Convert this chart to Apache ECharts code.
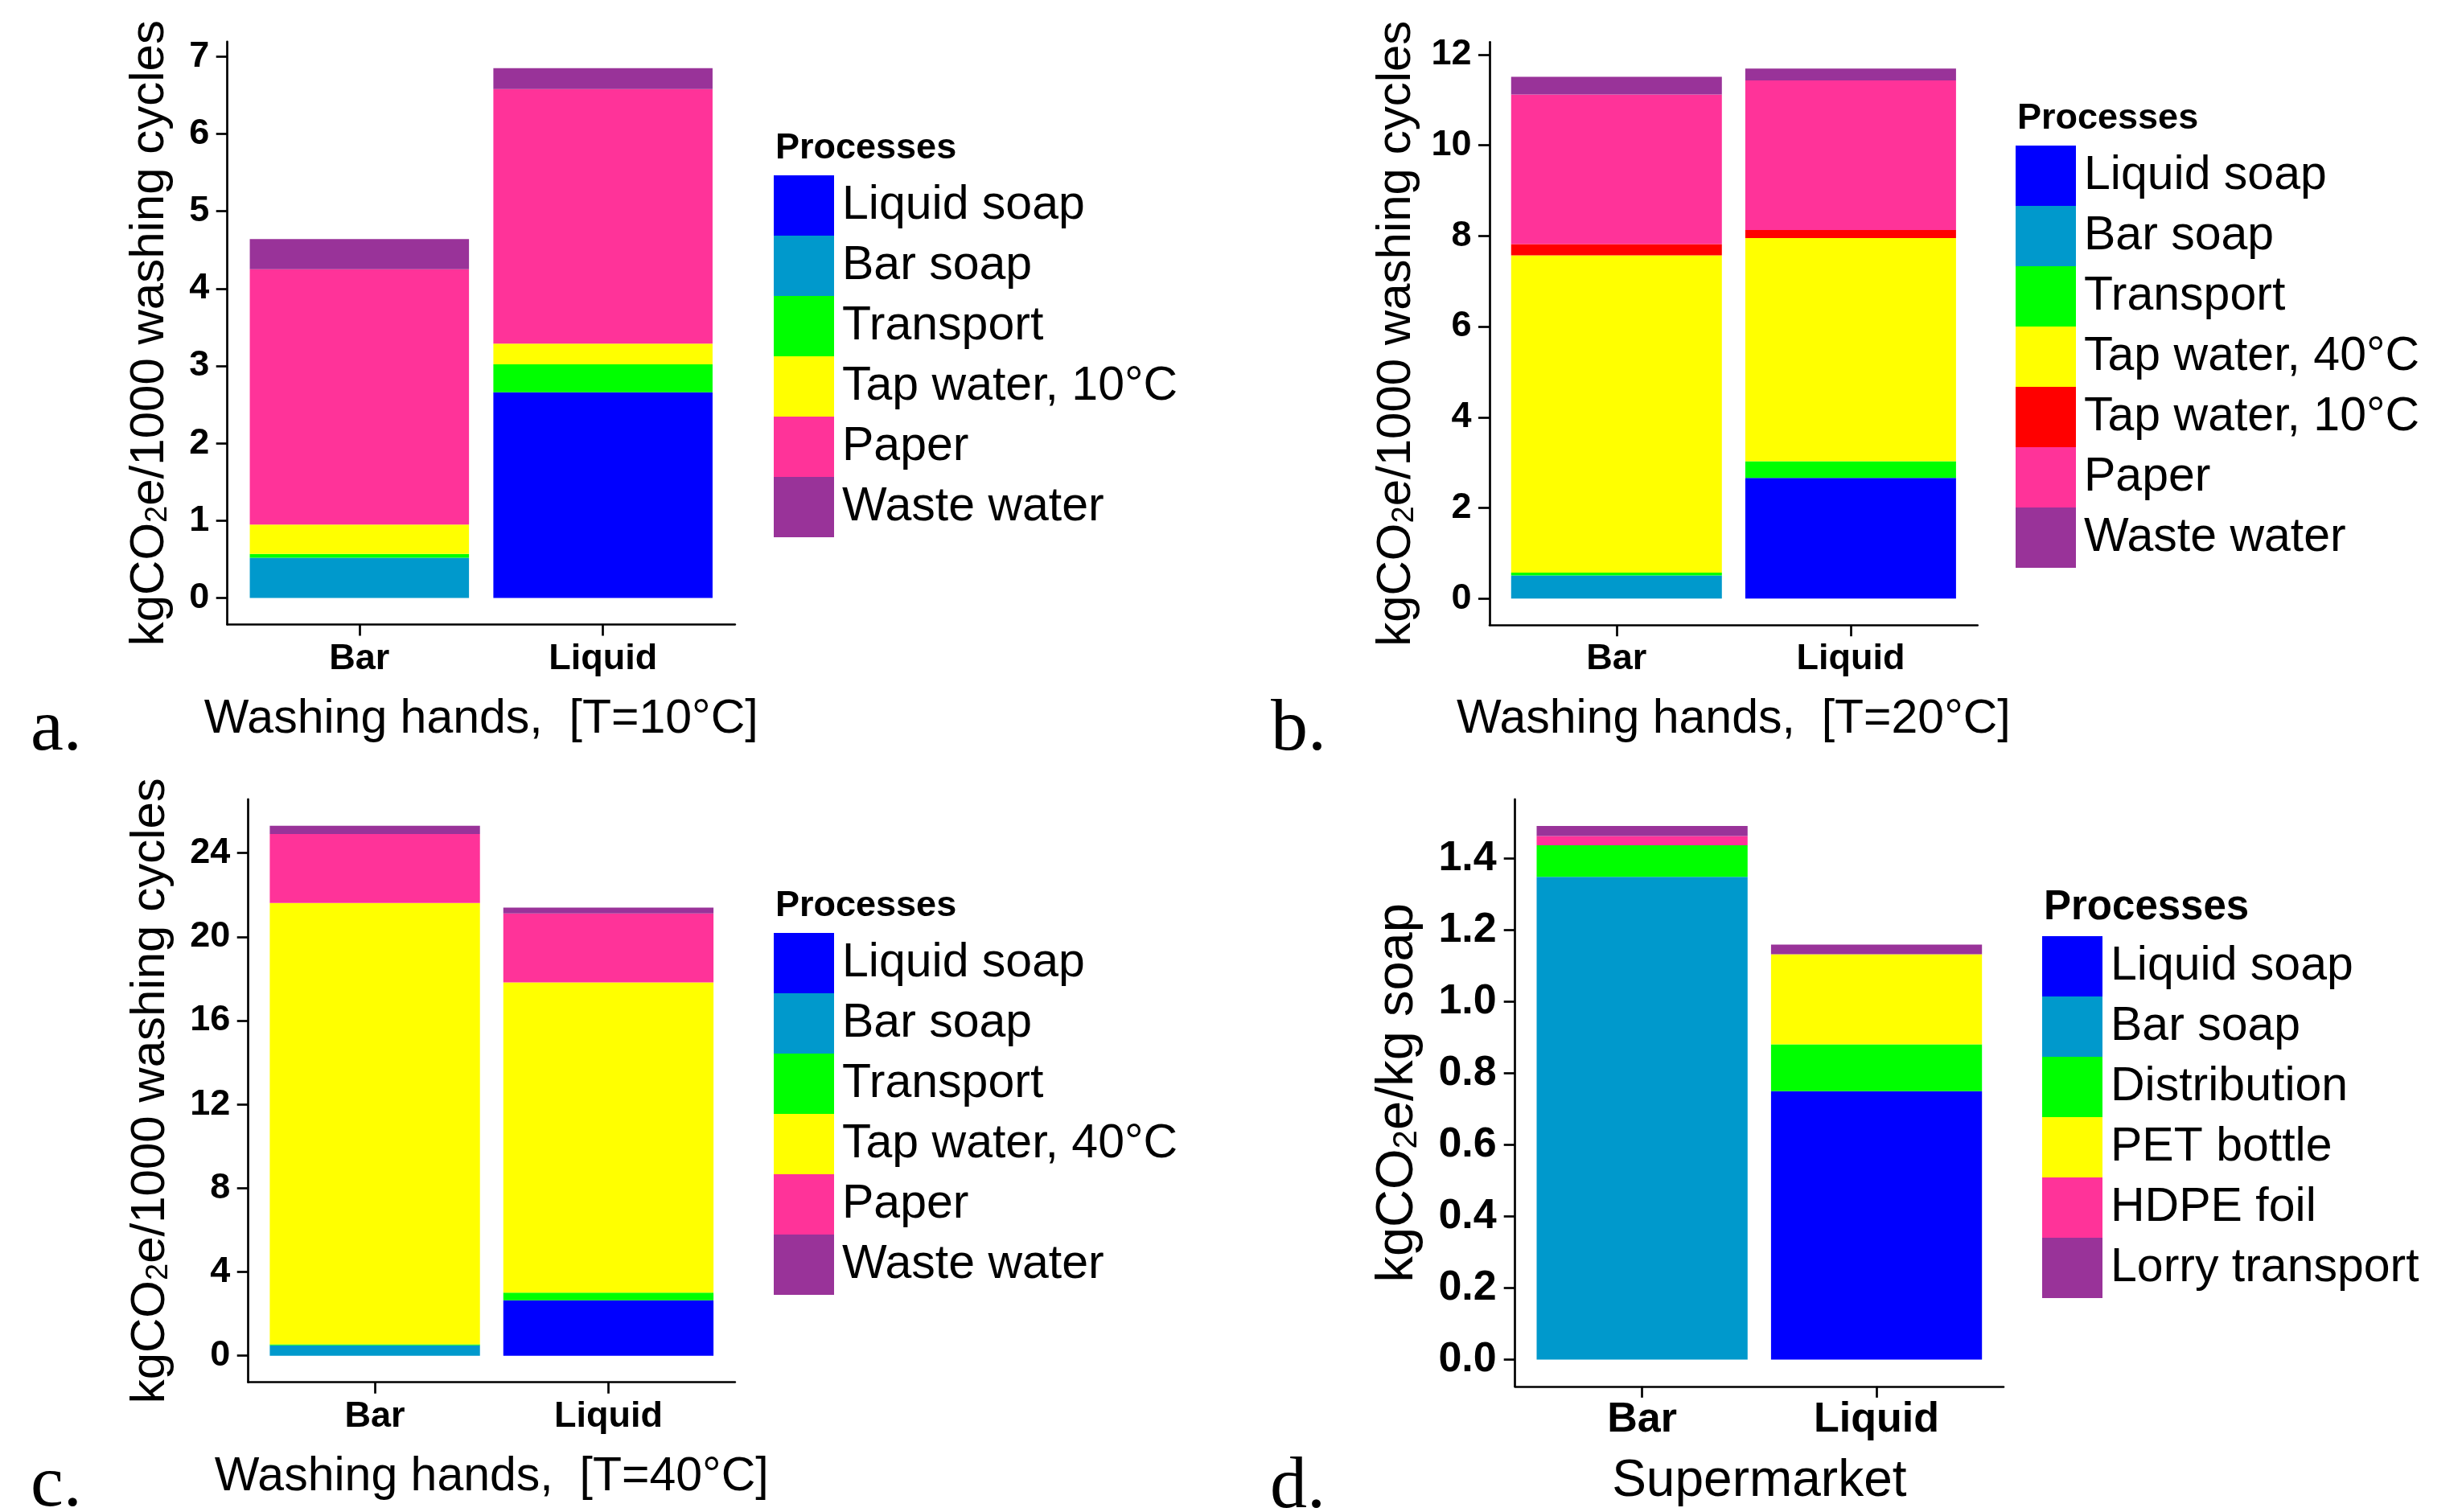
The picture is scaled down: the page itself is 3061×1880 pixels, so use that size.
<!DOCTYPE html>
<html>
<head>
<meta charset="utf-8">
<script src="https://cdn.jsdelivr.net/npm/echarts@6/dist/echarts.min.js"></script>
<style>html,body{margin:0;padding:0;background:#fff}#c{width:3061px;height:1880px}</style>
</head>
<body>
<div id="c"></div>
<script>
// ---------- data ----------
const categories = ['Bar', 'Liquid'];

// a. Washing hands, T=10°C
const aLiquidSoap = [0, 2.66];
const aBarSoap = [0.52, 0];
const aTransport = [0.05, 0.36];
const aTapWater10 = [0.38, 0.27];
const aPaper = [3.30, 3.29];
const aWasteWater = [0.39, 0.27];
const aTicks = [0, 1, 2, 3, 4, 5, 6, 7];

// b. Washing hands, T=20°C
const bLiquidSoap = [0, 2.66];
const bBarSoap = [0.51, 0];
const bTransport = [0.06, 0.37];
const bTapWater40 = [7.00, 4.92];
const bTapWater10 = [0.25, 0.18];
const bPaper = [3.30, 3.30];
const bWasteWater = [0.39, 0.26];
const bTicks = [0, 2, 4, 6, 8, 10, 12];

// c. Washing hands, T=40°C
const cLiquidSoap = [0, 2.65];
const cBarSoap = [0.50, 0];
const cTransport = [0.05, 0.36];
const cTapWater40 = [21.06, 14.81];
const cPaper = [3.30, 3.30];
const cWasteWater = [0.39, 0.27];
const cTicks = [0, 4, 8, 12, 16, 20, 24];

// d. Supermarket
const dLiquidSoap = [0, 0.750];
const dBarSoap = [1.349, 0];
const dDistribution = [0.088, 0.131];
const dPetBottle = [0, 0.252];
const dHdpeFoil = [0.026, 0];
const dLorryTransport = [0.028, 0.027];
const dTicks = [0, 0.2, 0.4, 0.6, 0.8, 1.0, 1.2, 1.4];

// ---------- styling ----------
const C = {blue:'#0000FF', teal:'#0099CC', green:'#00FF00', yellow:'#FFFF00', red:'#FF0000', pink:'#FF3399', purple:'#993399'};
const FONT = '"Liberation Sans", Arial, Helvetica, sans-serif';
const SERIF = '"Liberation Serif", "Times New Roman", serif';
const X_PAD = 0.542, BAR_FRAC = 0.9, LW = 2.7;

const panels = [
  {
    grid: {left: 282.7, top: 51.8, width: 631.1, height: 724.7},
    series: [['Liquid soap', aLiquidSoap, C.blue], ['Bar soap', aBarSoap, C.teal], ['Transport', aTransport, C.green],
             ['Tap water, 10°C', aTapWater10, C.yellow], ['Paper', aPaper, C.pink], ['Waste water', aWasteWater, C.purple]],
    ticks: aTicks, fmt: v => String(v), tickFont: 45, titleFont: 60,
    yTitle: 'kgCO{s|2}e/1000 washing cycles', xTitle: 'Washing hands,  [T=10°C]',
    yNameGap: 66.7, xNameGap: 89, yLabelMargin: 22.5, xLabelMargin: 20.4,
    legend: {left: 962, top: 218}, proc: {x: 964, y: 185, size: 45}, letter: {text: 'a.', x: 38, y: 908}
  },
  {
    grid: {left: 1852.0, top: 52.3, width: 606.7, height: 724.9},
    series: [['Liquid soap', bLiquidSoap, C.blue], ['Bar soap', bBarSoap, C.teal], ['Transport', bTransport, C.green],
             ['Tap water, 40°C', bTapWater40, C.yellow], ['Tap water, 10°C', bTapWater10, C.red],
             ['Paper', bPaper, C.pink], ['Waste water', bWasteWater, C.purple]],
    ticks: bTicks, fmt: v => String(v), tickFont: 45, titleFont: 60,
    yTitle: 'kgCO{s|2}e/1000 washing cycles', xTitle: 'Washing hands,  [T=20°C]',
    yNameGap: 86, xNameGap: 88.3, yLabelMargin: 22.5, xLabelMargin: 19.7,
    legend: {left: 2506, top: 181}, proc: {x: 2508, y: 148, size: 45}, letter: {text: 'b.', x: 1580, y: 908}
  },
  {
    grid: {left: 308.7, top: 993.8, width: 605.1, height: 724.9},
    series: [['Liquid soap', cLiquidSoap, C.blue], ['Bar soap', cBarSoap, C.teal], ['Transport', cTransport, C.green],
             ['Tap water, 40°C', cTapWater40, C.yellow], ['Paper', cPaper, C.pink], ['Waste water', cWasteWater, C.purple]],
    ticks: cTicks, fmt: v => String(v), tickFont: 45, titleFont: 60,
    yTitle: 'kgCO{s|2}e/1000 washing cycles', xTitle: 'Washing hands,  [T=40°C]',
    yNameGap: 91.7, xNameGap: 89, yLabelMargin: 22.5, xLabelMargin: 19.9,
    legend: {left: 962, top: 1160}, proc: {x: 964, y: 1127, size: 45}, letter: {text: 'c.', x: 38, y: 1848}
  },
  {
    grid: {left: 1883.7, top: 993.9, width: 607.3, height: 729.9},
    series: [['Liquid soap', dLiquidSoap, C.blue], ['Bar soap', dBarSoap, C.teal], ['Distribution', dDistribution, C.green],
             ['PET bottle', dPetBottle, C.yellow], ['HDPE foil', dHdpeFoil, C.pink], ['Lorry transport', dLorryTransport, C.purple]],
    ticks: dTicks, fmt: v => v.toFixed(1), tickFont: 52, titleFont: 65,
    yTitle: 'kgCO{s|2}e/kg soap', xTitle: 'Supermarket',
    yNameGap: 113, xNameGap: 87, yLabelMargin: 23, xLabelMargin: 15.5,
    legend: {left: 2539, top: 1164}, proc: {x: 2541, y: 1129, size: 51}, letter: {text: 'd.', x: 1579, y: 1849.5}
  }
];

const option = {
  backgroundColor: '#fff',
  animation: false,
  grid: [], xAxis: [], yAxis: [], series: [], legend: [], graphic: []
};

panels.forEach((p, i) => {
  option.grid.push(Object.assign({containLabel: false}, p.grid));
  const totals = categories.map((_, k) => p.series.reduce((s, ser) => s + ser[1][k], 0));
  const maxT = Math.max(...totals);
  const unitPx = p.grid.width / (1 + 2 * X_PAD);
  const lineStyle = {color: '#000', width: LW};
  const catPos = categories.map((_, k) => k + 1);

  option.xAxis.push({
    gridIndex: i, type: 'value', min: 1 - X_PAD, max: categories.length + X_PAD,
    axisLine: {show: true, onZero: false, lineStyle},
    axisTick: {show: true, length: 14, lineStyle, customValues: catPos},
    axisLabel: {show: true, customValues: catPos,
      formatter: v => categories[Math.round(v) - 1] || '',
      margin: p.xLabelMargin, color: '#000', fontWeight: 'bold', fontSize: p.tickFont, fontFamily: FONT},
    splitLine: {show: false},
    name: p.xTitle, nameLocation: 'middle', nameGap: p.xNameGap,
    nameTextStyle: {color: '#000', fontSize: p.titleFont - 1, fontFamily: FONT}
  });

  option.yAxis.push({
    gridIndex: i, type: 'value', min: -0.05 * maxT, max: 1.05 * maxT,
    axisLine: {show: true, onZero: false, lineStyle},
    axisTick: {show: true, length: 14, lineStyle, customValues: p.ticks},
    axisLabel: {show: true, customValues: p.ticks, formatter: p.fmt,
      margin: p.yLabelMargin, color: '#000', fontWeight: 'bold', fontSize: p.tickFont, fontFamily: FONT},
    splitLine: {show: false},
    name: p.yTitle, nameLocation: 'middle', nameGap: p.yNameGap, nameRotate: 90,
    nameTextStyle: {color: '#000', fontSize: p.titleFont, lineHeight: p.titleFont, fontFamily: FONT,
      rich: {s: {fontSize: Math.round(p.titleFont * 0.64), lineHeight: Math.round(p.titleFont * 0.53),
                 verticalAlign: 'bottom', color: '#000', fontFamily: FONT}}}
  });

  p.series.forEach(([name, values, color]) => {
    option.series.push({
      type: 'bar', name, xAxisIndex: i, yAxisIndex: i, stack: 'p' + i,
      barWidth: unitPx * BAR_FRAC,
      itemStyle: {color, borderWidth: 0},
      emphasis: {disabled: true},
      // value first so that the stacked dimension is the y value
      dimensions: ['value', 'pos'],
      encode: {x: 'pos', y: 'value'},
      data: values.map((v, k) => [v, catPos[k]])
    });
  });

  option.legend.push({
    orient: 'vertical', left: p.legend.left, top: p.legend.top, padding: 0,
    itemWidth: 75, itemHeight: 75, itemGap: 0, icon: 'rect', selectedMode: false,
    textStyle: {color: '#000', fontSize: 59, fontFamily: FONT, padding: [4, 0, 0, 5]},
    data: p.series.map(([name, , color]) => ({name, itemStyle: {color, borderWidth: 0}}))
  });

  option.graphic.push({
    type: 'text', x: p.proc.x, y: p.proc.y,
    style: {text: 'Processes', fill: '#000', font: `bold ${p.proc.size}px ${FONT}`, align: 'left', verticalAlign: 'middle'}
  });
  option.graphic.push({
    type: 'text', x: p.letter.x, y: p.letter.y,
    style: {text: p.letter.text, fill: '#000', font: `92px ${SERIF}`, align: 'left', verticalAlign: 'middle'}
  });
});

const chart = echarts.init(document.getElementById('c'), null, {renderer: 'canvas'});
chart.setOption(option);
</script>
</body>
</html>
